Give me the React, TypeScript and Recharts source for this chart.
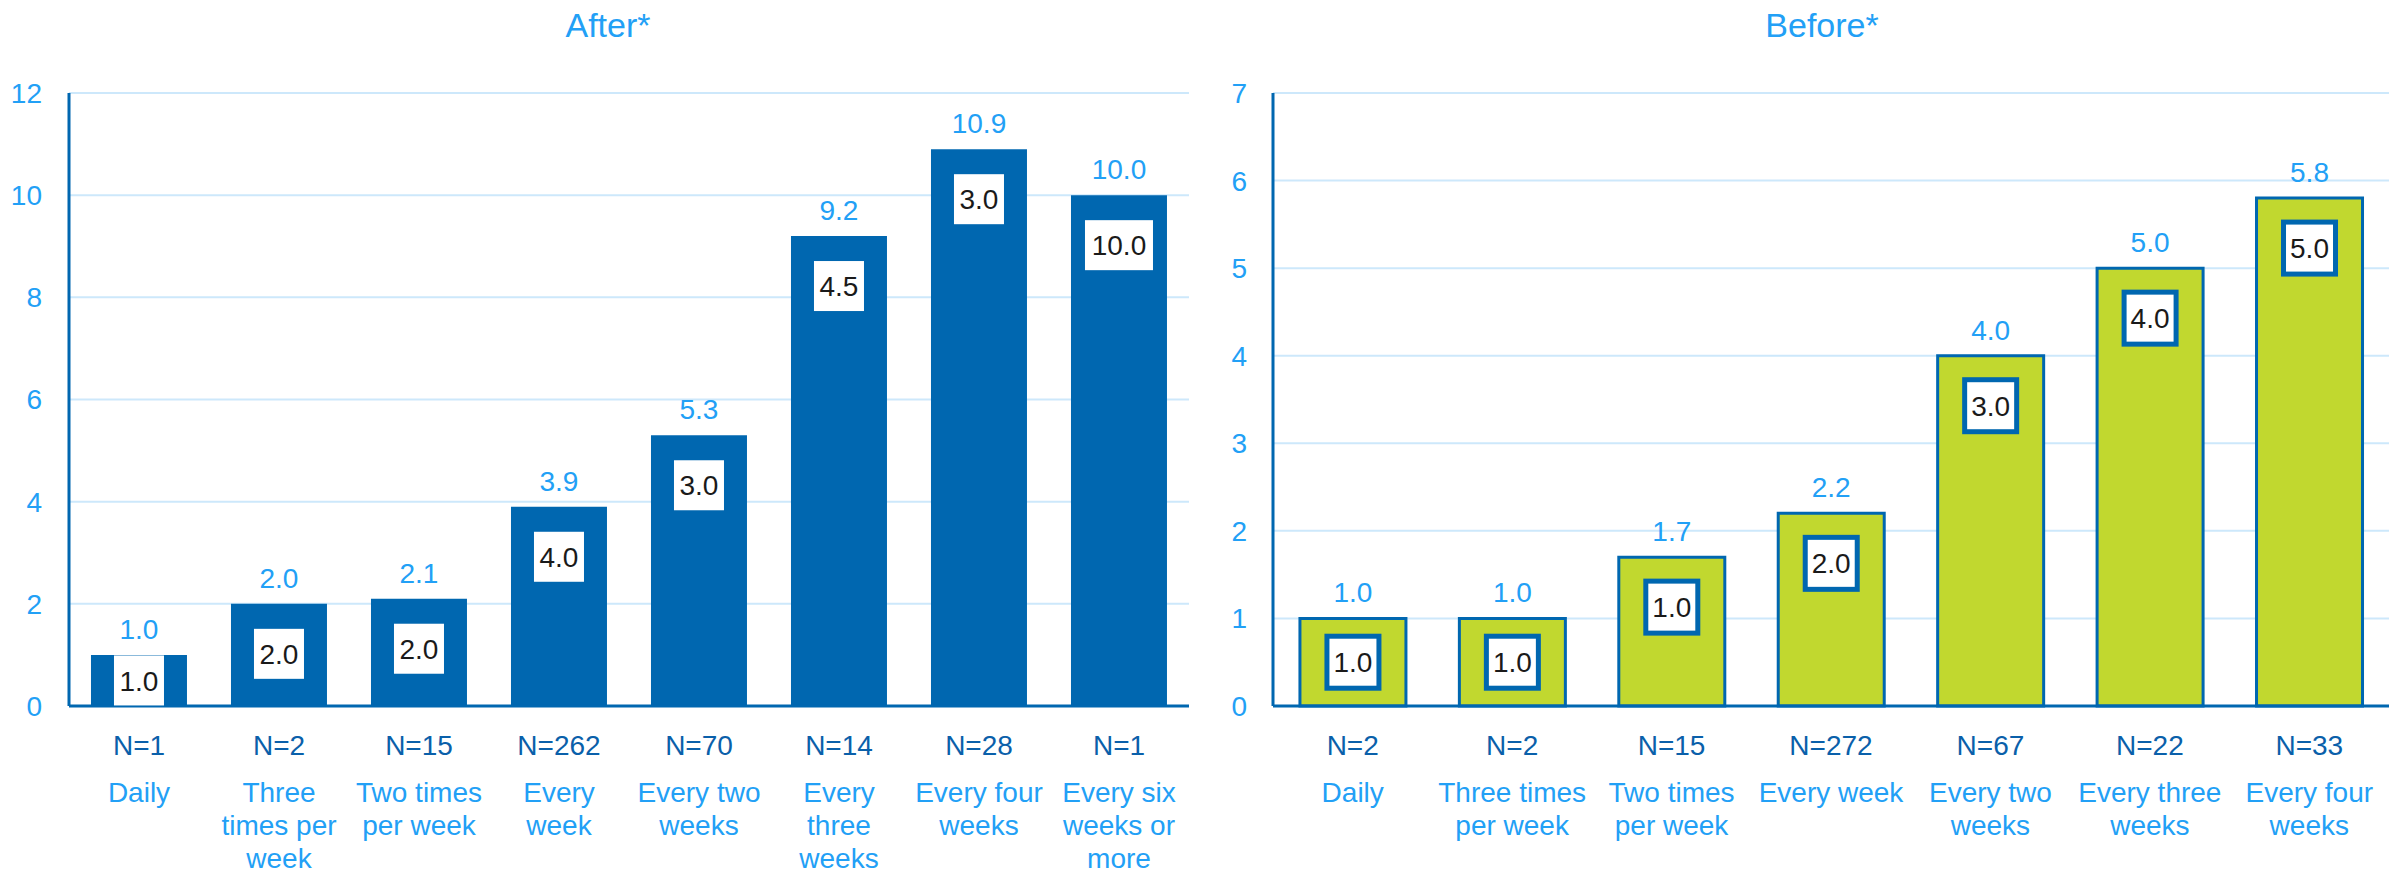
import { BarChart, Bar, XAxis, YAxis, CartesianGrid, LabelList } from "recharts";

document.body.style.margin = "0";

const afterCats = [
  "Daily",
  "Three\ntimes per\nweek",
  "Two times\nper week",
  "Every\nweek",
  "Every two\nweeks",
  "Every\nthree\nweeks",
  "Every four\nweeks",
  "Every six\nweeks or\nmore",
];
const afterMean = [1.0, 2.0, 2.1, 3.9, 5.3, 9.2, 10.9, 10.0];
const afterMedian = [1.0, 2.0, 2.0, 4.0, 3.0, 4.5, 3.0, 10.0];
const afterN = [1, 2, 15, 262, 70, 14, 28, 1];
const afterTicks = [0, 2, 4, 6, 8, 10, 12];

const beforeCats = [
  "Daily",
  "Three times\nper week",
  "Two times\nper week",
  "Every week",
  "Every two\nweeks",
  "Every three\nweeks",
  "Every four\nweeks",
];
const beforeMean = [1.0, 1.0, 1.7, 2.2, 4.0, 5.0, 5.8];
const beforeMedian = [1.0, 1.0, 1.0, 2.0, 3.0, 4.0, 5.0];
const beforeN = [2, 2, 15, 272, 67, 22, 33];
const beforeTicks = [0, 1, 2, 3, 4, 5, 6, 7];

const LIGHT = "#22A0F6";
const DARK = "#0A60AA";
const BLUE = "#0067B0";
const GREEN = "#C1D82F";
const GRID = "#CDE8FB";
const FONT = "'Liberation Sans', Arial, sans-serif";

type Row = { cat: string; mean: number; median: number; n: number };

const afterData: Row[] = afterCats.map((c, i) => ({ cat: c, mean: afterMean[i], median: afterMedian[i], n: afterN[i] }));
const beforeData: Row[] = beforeCats.map((c, i) => ({ cat: c, mean: beforeMean[i], median: beforeMedian[i], n: beforeN[i] }));

function CatTick(props: any) {
  const { x, y, payload, rows } = props;
  const row: Row | undefined = rows.find((r: Row) => r.cat === payload.value);
  if (!row) return null;
  const lines = row.cat.split("\n");
  return (
    <g>
      <text x={x} y={y + 49} textAnchor="middle" fill={DARK} fontSize={28}>
        N={row.n}
      </text>
      {lines.map((l, i) => (
        <text key={i} x={x} y={y + 96 + i * 33} textAnchor="middle" fill={LIGHT} fontSize={28}>
          {l}
        </text>
      ))}
    </g>
  );
}

function BoxLabel(props: any) {
  const { x, y, width, height, value, boxed } = props;
  const txt = Number(value).toFixed(1);
  const w = boxed ? 52 : txt.length > 3 ? 68 : 50;
  const h = boxed ? 52 : 50;
  const cx = x + width / 2;
  const cy = Math.min(y + 50, y + height / 2);
  return (
    <g>
      <rect
        x={cx - w / 2}
        y={cy - h / 2}
        width={w}
        height={h}
        fill="#fff"
        stroke={boxed ? BLUE : "none"}
        strokeWidth={boxed ? 5 : 0}
      />
      <text x={cx} y={cy} dy="0.36em" textAnchor="middle" fontSize={28} fill="#1a1a1a">
        {txt}
      </text>
    </g>
  );
}

function Panel({ data, ticks, max, width, right, yWidth, tickGap, fill, boxed, gap }: any) {
  return (
    <BarChart
      width={width}
      height={874}
      data={data}
      margin={{ top: 93, right, bottom: 0, left: 0 }}
      barCategoryGap={gap}
    >
      <CartesianGrid vertical={false} stroke={GRID} strokeWidth={2} />
      <XAxis
        dataKey="cat"
        height={168}
        tickSize={0}
        tickMargin={0}
        tickLine={false}
        axisLine={{ stroke: BLUE, strokeWidth: 3 }}
        interval={0}
        tick={(p: any) => <CatTick {...p} rows={data} />}
      />
      <YAxis
        width={yWidth}
        domain={[0, max]}
        ticks={ticks}
        interval={0}
        tickLine={false}
        tickSize={6}
        tickMargin={tickGap}
        axisLine={{ stroke: BLUE, strokeWidth: 3 }}
        tick={{ fill: LIGHT, fontSize: 28 }}
      />
      <Bar
        dataKey="mean"
        fill={fill}
        stroke={boxed ? BLUE : "none"}
        strokeWidth={boxed ? 3 : 0}
        isAnimationActive={false}
      >
        <LabelList
          dataKey="mean"
          position="top"
          offset={16}
          fill={LIGHT}
          fontSize={28}
          formatter={(v: any) => Number(v).toFixed(1)}
        />
        <LabelList dataKey="median" content={(p: any) => <BoxLabel {...p} boxed={boxed} />} />
      </Bar>
    </BarChart>
  );
}

export default function App() {
  return (
    <div style={{ position: "relative", width: 2408, height: 874, fontFamily: FONT, background: "#fff" }}>
      <div style={{ position: "absolute", left: 0, top: 0 }}>
        <Panel
          data={afterData}
          ticks={afterTicks}
          max={12}
          width={1210}
          right={21}
          yWidth={69}
          tickGap={21}
          fill={BLUE}
          boxed={false}
          gap="15.7%"
        />
      </div>
      <div style={{ position: "absolute", left: 1210, top: 0 }}>
        <Panel
          data={beforeData}
          ticks={beforeTicks}
          max={7}
          width={1198}
          right={19}
          yWidth={63}
          tickGap={20}
          fill={GREEN}
          boxed={true}
          gap="16.9%"
        />
      </div>
      <div
        style={{
          position: "absolute",
          left: 408,
          width: 400,
          top: 5,
          textAlign: "center",
          fontSize: 34,
          color: LIGHT,
          lineHeight: "40px",
        }}
      >
        After*
      </div>
      <div
        style={{
          position: "absolute",
          left: 1622,
          width: 400,
          top: 5,
          textAlign: "center",
          fontSize: 34,
          color: LIGHT,
          lineHeight: "40px",
        }}
      >
        Before*
      </div>
    </div>
  );
}
